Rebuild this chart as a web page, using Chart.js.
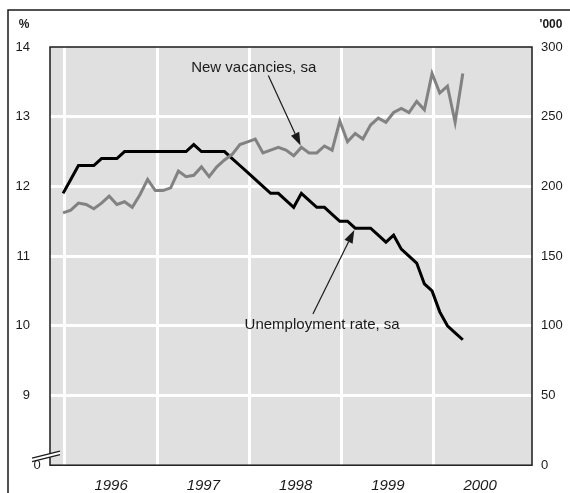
<!DOCTYPE html>
<html lang="en">
<head>
<meta charset="UTF-8">
<title>Unemployment rate and new vacancies</title>
<script src="https://cdn.jsdelivr.net/npm/chart.js"></script>
<style>
  html, body { margin: 0; padding: 0; background: #fff; }
  #wrap { width: 570px; height: 493px; position: relative; }
</style>
</head>
<body>
<div id="wrap"><canvas id="labourChart" width="570" height="493"></canvas></div>
<script>
// Monthly figures from January 1996 (index 0) to May 2000
const startYear = 1996;
const unemployment = [
  11.9, 12.1, 12.3, 12.3, 12.3, 12.4, 12.4, 12.4, 12.5, 12.5, 12.5, 12.5,
  12.5, 12.5, 12.5, 12.5, 12.5, 12.6, 12.5, 12.5, 12.5, 12.5, 12.4, 12.3,
  12.2, 12.1, 12.0, 11.9, 11.9, 11.8, 11.7, 11.9, 11.8, 11.7, 11.7, 11.6,
  11.5, 11.5, 11.4, 11.4, 11.4, 11.3, 11.2, 11.3, 11.1, 11.0, 10.9, 10.6,
  10.5, 10.2, 10.0, 9.9, 9.8
];
const vacancies = [
  181, 183, 188, 187, 184, 188, 193, 187, 189, 185, 194, 205,
  197, 197, 199, 211, 207, 208, 214, 207, 214, 219, 223, 230,
  232, 234, 224, 226, 228, 226, 222, 228, 224, 224, 229, 226,
  247, 232, 238, 234, 244, 249, 246, 253, 256, 253, 261, 255,
  281, 267, 272, 246, 281
];
const years = ['1996', '1997', '1998', '1999', '2000'];
const rateTicks = [8, 9, 10, 11, 12, 13, 14];      // 8 sits on the axis break and reads as 0
const vacancyTicks = [0, 50, 100, 150, 200, 250, 300];

const FONT = "'Liberation Sans', Arial, sans-serif";
const INK = '#1a1a1a';

// year boundaries fall a quarter month after the January point
const yearStart = i => i * 12 + 0.25;
const xTicks = [];
years.forEach((y, i) => { xTicks.push(yearStart(i)); xTicks.push(yearStart(i) + 6); });

// callouts, positioned in month / percent units
const notes = [
  { text: 'New vacancies, sa', at: [24.8, 13.7], from: [26.7, 13.59], dataset: 0, month: 31 },
  { text: 'Unemployment rate, sa', at: [33.7, 10.01], from: [32.5, 10.17], dataset: 1, month: 38 }
];

const chartDecor = {
  id: 'chartDecor',
  beforeDraw(chart) {
    const { ctx, chartArea: a } = chart;
    ctx.save();
    ctx.fillStyle = '#e0e0e0';
    ctx.fillRect(a.left, a.top, a.right - a.left, a.bottom - a.top);
    // outer frame (top and left edges)
    ctx.strokeStyle = INK;
    ctx.lineWidth = 1.5;
    ctx.beginPath();
    ctx.moveTo(8, 493);
    ctx.lineTo(8, 10);
    ctx.lineTo(570, 10);
    ctx.stroke();
    ctx.restore();
  },
  afterDatasetsDraw(chart) {
    const { ctx, chartArea: a, scales } = chart;
    ctx.save();
    // plot box
    ctx.strokeStyle = INK;
    ctx.lineWidth = 1.5;
    ctx.strokeRect(a.left, a.top, a.right - a.left, a.bottom - a.top);

    // axis break on the left scale
    const bx = a.left, by = a.bottom - 12;
    ctx.fillStyle = '#fff';
    ctx.beginPath();
    ctx.moveTo(bx - 18, by + 5);
    ctx.lineTo(bx + 10, by - 2);
    ctx.lineTo(bx + 10, by + 1.5);
    ctx.lineTo(bx - 18, by + 8.5);
    ctx.closePath();
    ctx.fill();
    ctx.lineWidth = 1.2;
    ctx.beginPath();
    ctx.moveTo(bx - 18, by + 5); ctx.lineTo(bx + 10, by - 2);
    ctx.moveTo(bx - 18, by + 8.5); ctx.lineTo(bx + 10, by + 1.5);
    ctx.stroke();

    // texts around the axes
    ctx.fillStyle = INK;
    ctx.textBaseline = 'middle';
    ctx.textAlign = 'center';
    ctx.font = '13px ' + FONT;
    ctx.fillText('0', bx - 13, a.bottom);
    ctx.font = 'bold 12px ' + FONT;
    ctx.fillText('%', 24, 25);
    ctx.fillText("'000", 551, 25);

    // callouts with arrows
    const x = scales.x, y = scales.y;
    notes.forEach(n => {
      ctx.font = '15px ' + FONT;
      ctx.textAlign = 'center';
      ctx.fillText(n.text, x.getPixelForValue(n.at[0]), y.getPixelForValue(n.at[1]));
      const pt = chart.getDatasetMeta(n.dataset).data[n.month];
      const x0 = x.getPixelForValue(n.from[0]), y0 = y.getPixelForValue(n.from[1]);
      const ang = Math.atan2(pt.y - y0, pt.x - x0);
      const tx = pt.x - Math.cos(ang) * 2, ty = pt.y - Math.sin(ang) * 2;
      const len = 13, half = 4.5;
      const hx = tx - Math.cos(ang) * len, hy = ty - Math.sin(ang) * len;
      ctx.strokeStyle = INK;
      ctx.lineWidth = 1.2;
      ctx.beginPath();
      ctx.moveTo(x0, y0);
      ctx.lineTo(hx, hy);
      ctx.stroke();
      ctx.beginPath();
      ctx.moveTo(tx, ty);
      ctx.lineTo(hx + Math.sin(ang) * half, hy - Math.cos(ang) * half);
      ctx.lineTo(hx - Math.sin(ang) * half, hy + Math.cos(ang) * half);
      ctx.closePath();
      ctx.fill();
    });
    ctx.restore();
  }
};

const ctxLabour = document.getElementById('labourChart').getContext('2d');
const labourChart = new Chart(ctxLabour, {
  type: 'line',
  data: {
    datasets: [{
      label: 'New vacancies, sa',
      data: vacancies.map((v, i) => ({ x: i, y: v })),
      yAxisID: 'y2',
      borderColor: '#828282',
      borderWidth: 3,
      pointRadius: 0,
      tension: 0,
      borderJoinStyle: 'miter'
    }, {
      label: 'Unemployment rate, sa',
      data: unemployment.map((v, i) => ({ x: i, y: v })),
      yAxisID: 'y',
      borderColor: '#000',
      borderWidth: 3,
      pointRadius: 0,
      tension: 0,
      borderJoinStyle: 'miter'
    }]
  },
  options: {
    responsive: false,
    devicePixelRatio: 1,
    animation: false,
    layout: { padding: { top: 47, left: 0, right: 0, bottom: 0 } },
    plugins: { legend: { display: false }, tooltip: { enabled: false } },
    scales: {
      x: {
        type: 'linear',
        min: -1.7,
        max: 61.0,
        afterBuildTicks: s => { s.ticks = xTicks.map(v => ({ value: v })); },
        afterFit: s => { s.height = 27; },
        border: { display: false },
        grid: {
          drawTicks: false,
          lineWidth: 3,
          color: c => (c.tick && Math.abs((c.tick.value - 0.25) % 12) < 0.01) ? '#fff' : 'rgba(0,0,0,0)'
        },
        ticks: {
          autoSkip: false,
          maxRotation: 0,
          padding: 12,
          color: INK,
          font: { family: FONT, size: 15, style: 'italic' },
          callback: v => {
            const k = Math.round((v - 6.25) / 12);
            return Math.abs(v - (6.25 + k * 12)) < 0.01 ? String(startYear + k) : '';
          }
        }
      },
      y: {
        position: 'left',
        min: 8,
        max: 14,
        afterBuildTicks: s => { s.ticks = rateTicks.map(v => ({ value: v })); },
        afterFit: s => { s.width = 50; },
        border: { display: false },
        grid: {
          drawTicks: false,
          lineWidth: 3,
          color: c => (c.tick && (c.tick.value === 8 || c.tick.value === 14)) ? 'rgba(0,0,0,0)' : '#fff'
        },
        ticks: {
          padding: 20,
          color: INK,
          font: { family: FONT, size: 13 },
          callback: v => v === 8 ? '' : String(v)
        }
      },
      y2: {
        position: 'right',
        min: 0,
        max: 300,
        afterBuildTicks: s => { s.ticks = vacancyTicks.map(v => ({ value: v })); },
        afterFit: s => { s.width = 38; },
        border: { display: false },
        grid: { drawOnChartArea: false, drawTicks: false },
        ticks: {
          padding: 9,
          color: INK,
          font: { family: FONT, size: 13 }
        }
      }
    }
  },
  plugins: [chartDecor]
});
</script>
</body>
</html>
